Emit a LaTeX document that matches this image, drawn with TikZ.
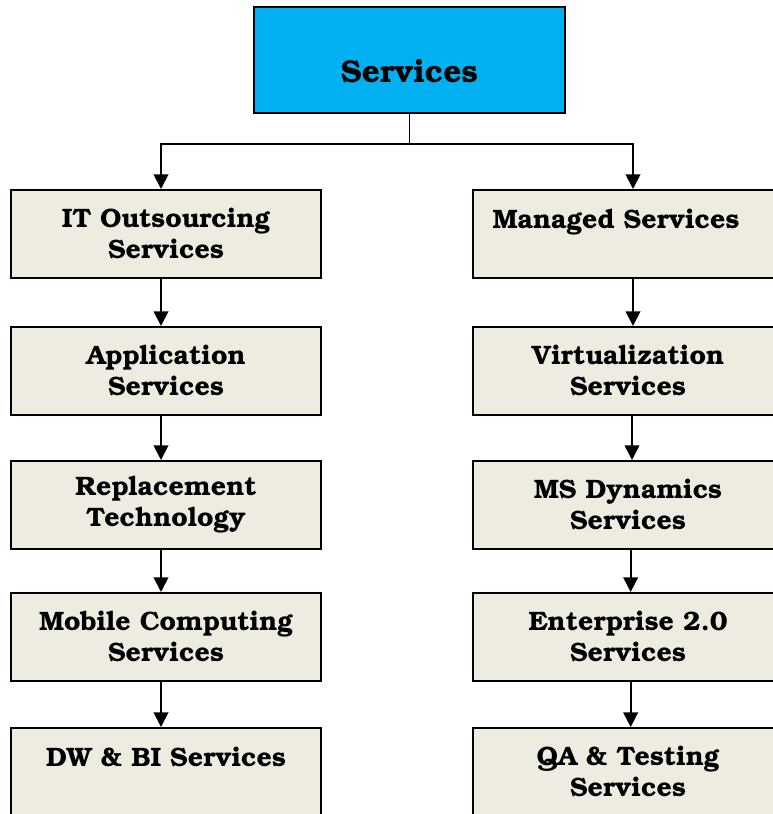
\documentclass[tikz,border=0pt]{standalone}
\usepackage[T1]{fontenc}
\usepackage{bookman}
\usetikzlibrary{arrows.meta}
\definecolor{svcblue}{RGB}{0,176,240}
\definecolor{svcbeige}{RGB}{238,236,225}

\begin{document}
\begin{tikzpicture}[x=0.75pt, y=-0.75pt,
                svcbox/.style={draw, line width=1.5pt, fill=svcbeige, minimum width=232.5pt,
                    minimum height=66pt, align=center, inner sep=2pt,
                    font=\bfseries\fontsize{20}{23.25}\selectfont},
                svcarrow/.style={line width=1.4pt, -{Triangle[width=11pt,length=11pt]}}]
                \useasboundingbox (0, 0) rectangle (773, 814);
                \node[draw, line width=1.5pt, fill=svcblue, minimum width=233pt, minimum height=79.5pt,
                    text height=34pt, text depth=0pt, font=\bfseries\fontsize{23.7}{28}\selectfont]
                    (serv) at (409.5, 60) {Services};
                \node[svcbox] (it) at (166, 234) {IT Outsourcing\\Services};
                \node[svcbox] (app) at (166, 371) {Application\\Services};
                \node[svcbox] (repl) at (166, 505) {Replacement\\Technology};
                \node[svcbox] (mob) at (166, 637) {Mobile Computing\\Services};
                \node[svcbox] (dwbi) at (166, 772) {DW \& BI Services\\\mbox{}};
                \node[svcbox] (man) at (628, 234) {Managed Services\hspace*{18pt}\\\mbox{}};
                \node[svcbox] (virt) at (628, 371) {Virtualization\\Services};
                \node[svcbox] (msd) at (628, 505) {MS Dynamics\\Services};
                \node[svcbox] (ent) at (628, 637) {Enterprise 2.0\\Services};
                \node[svcbox] (qa) at (628, 772) {QA \& Testing\\Services};
                \draw[svcarrow] (serv.south) -- ++(0, 30) -| ([xshift=-3.75pt]it.north);
                \draw[svcarrow] (serv.south) -- ++(0, 30) -| ([xshift=3.75pt]man.north);
                \draw[svcarrow] ([xshift=-3.75pt]it.south) -- ([xshift=-3.75pt]app.north);
                \draw[svcarrow] ([xshift=-3.75pt]app.south) -- ([xshift=-3.75pt]repl.north);
                \draw[svcarrow] ([xshift=-3.75pt]repl.south) -- ([xshift=-3.75pt]mob.north);
                \draw[svcarrow] ([xshift=-3.75pt]mob.south) -- ([xshift=-3.75pt]dwbi.north);
                \draw[svcarrow] ([xshift=3.75pt]man.south) -- ([xshift=3.75pt]virt.north);
                \draw[svcarrow] ([xshift=3pt]virt.south) -- ([xshift=3pt]msd.north);
                \draw[svcarrow] ([xshift=2pt]msd.south) -- ([xshift=2pt]ent.north);
                \draw[svcarrow] ([xshift=2pt]ent.south) -- ([xshift=2pt]qa.north);
            \end{tikzpicture}
\end{document}
